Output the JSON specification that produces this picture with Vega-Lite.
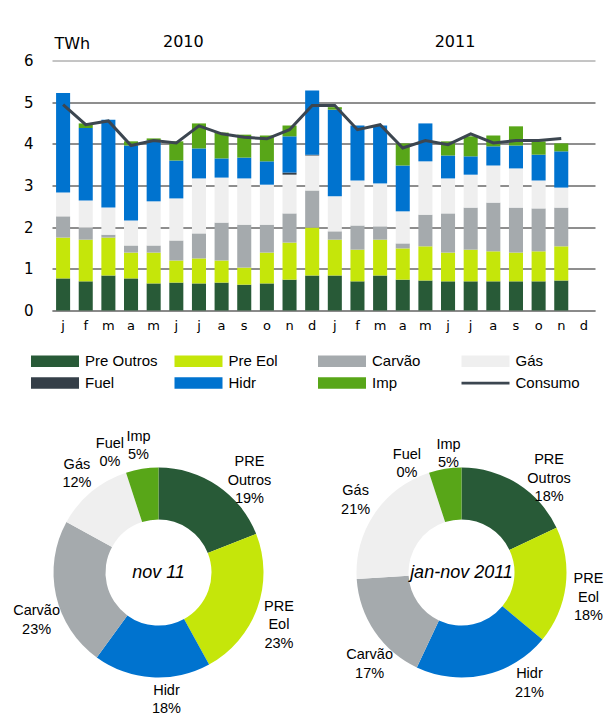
{
  "$schema": "https://vega.github.io/schema/vega-lite/v6.json",
  "padding": {"left": 13, "top": 33.5, "right": 5, "bottom": 2},
  "background": "white",
  "bounds": "flush",
  "spacing": 147,
  "config": {"view": {"stroke": null}},
  "resolve": {"scale": {"color": "independent"}, "legend": {"color": "independent"}},
  "vconcat": [
    {
      "width": 543,
      "height": 250,
      "data": {"values": [
        {"m": "2010-01", "Pre Outros": 0.77, "Pre Eol": 0.98, "Carvão": 0.51, "Gás": 0.57, "Fuel": 0, "Hidr": 2.39, "Imp": 0, "Consumo": 4.94},
        {"m": "2010-02", "Pre Outros": 0.70, "Pre Eol": 1.00, "Carvão": 0.29, "Gás": 0.65, "Fuel": 0, "Hidr": 1.74, "Imp": 0.11, "Consumo": 4.46},
        {"m": "2010-03", "Pre Outros": 0.84, "Pre Eol": 0.91, "Carvão": 0.07, "Gás": 0.65, "Fuel": 0, "Hidr": 2.11, "Imp": 0, "Consumo": 4.55},
        {"m": "2010-04", "Pre Outros": 0.77, "Pre Eol": 0.62, "Carvão": 0.17, "Gás": 0.60, "Fuel": 0, "Hidr": 1.80, "Imp": 0.10, "Consumo": 3.96},
        {"m": "2010-05", "Pre Outros": 0.65, "Pre Eol": 0.74, "Carvão": 0.17, "Gás": 1.06, "Fuel": 0, "Hidr": 1.46, "Imp": 0.05, "Consumo": 4.08},
        {"m": "2010-06", "Pre Outros": 0.67, "Pre Eol": 0.53, "Carvão": 0.48, "Gás": 1.01, "Fuel": 0, "Hidr": 0.91, "Imp": 0.46, "Consumo": 4.02},
        {"m": "2010-07", "Pre Outros": 0.65, "Pre Eol": 0.60, "Carvão": 0.60, "Gás": 1.32, "Fuel": 0, "Hidr": 0.72, "Imp": 0.60, "Consumo": 4.43},
        {"m": "2010-08", "Pre Outros": 0.67, "Pre Eol": 0.53, "Carvão": 0.91, "Gás": 1.08, "Fuel": 0, "Hidr": 0.46, "Imp": 0.62, "Consumo": 4.24},
        {"m": "2010-09", "Pre Outros": 0.62, "Pre Eol": 0.41, "Carvão": 1.03, "Gás": 1.11, "Fuel": 0, "Hidr": 0.50, "Imp": 0.55, "Consumo": 4.16},
        {"m": "2010-10", "Pre Outros": 0.65, "Pre Eol": 0.74, "Carvão": 0.67, "Gás": 0.96, "Fuel": 0, "Hidr": 0.56, "Imp": 0.62, "Consumo": 4.12},
        {"m": "2010-11", "Pre Outros": 0.74, "Pre Eol": 0.89, "Carvão": 0.70, "Gás": 0.93, "Fuel": 0.05, "Hidr": 0.87, "Imp": 0.26, "Consumo": 4.34},
        {"m": "2010-12", "Pre Outros": 0.84, "Pre Eol": 1.15, "Carvão": 0.89, "Gás": 0.84, "Fuel": 0.02, "Hidr": 1.54, "Imp": 0, "Consumo": 4.92},
        {"m": "2011-01", "Pre Outros": 0.84, "Pre Eol": 0.86, "Carvão": 0.20, "Gás": 0.84, "Fuel": 0, "Hidr": 2.08, "Imp": 0.06, "Consumo": 4.92},
        {"m": "2011-02", "Pre Outros": 0.70, "Pre Eol": 0.76, "Carvão": 0.58, "Gás": 1.08, "Fuel": 0, "Hidr": 1.32, "Imp": 0, "Consumo": 4.34},
        {"m": "2011-03", "Pre Outros": 0.84, "Pre Eol": 0.86, "Carvão": 0.32, "Gás": 1.03, "Fuel": 0, "Hidr": 1.39, "Imp": 0, "Consumo": 4.46},
        {"m": "2011-04", "Pre Outros": 0.74, "Pre Eol": 0.75, "Carvão": 0.12, "Gás": 0.77, "Fuel": 0, "Hidr": 1.10, "Imp": 0.53, "Consumo": 3.90},
        {"m": "2011-05", "Pre Outros": 0.72, "Pre Eol": 0.82, "Carvão": 0.76, "Gás": 1.28, "Fuel": 0, "Hidr": 0.91, "Imp": 0, "Consumo": 4.08},
        {"m": "2011-06", "Pre Outros": 0.70, "Pre Eol": 0.69, "Carvão": 0.94, "Gás": 0.84, "Fuel": 0, "Hidr": 0.55, "Imp": 0.34, "Consumo": 3.98},
        {"m": "2011-07", "Pre Outros": 0.70, "Pre Eol": 0.76, "Carvão": 1.01, "Gás": 0.79, "Fuel": 0, "Hidr": 0.44, "Imp": 0.48, "Consumo": 4.24},
        {"m": "2011-08", "Pre Outros": 0.70, "Pre Eol": 0.72, "Carvão": 1.17, "Gás": 0.89, "Fuel": 0, "Hidr": 0.46, "Imp": 0.26, "Consumo": 4.02},
        {"m": "2011-09", "Pre Outros": 0.70, "Pre Eol": 0.69, "Carvão": 1.08, "Gás": 0.94, "Fuel": 0, "Hidr": 0.55, "Imp": 0.46, "Consumo": 4.08},
        {"m": "2011-10", "Pre Outros": 0.70, "Pre Eol": 0.72, "Carvão": 1.03, "Gás": 0.67, "Fuel": 0, "Hidr": 0.62, "Imp": 0.32, "Consumo": 4.08},
        {"m": "2011-11", "Pre Outros": 0.72, "Pre Eol": 0.82, "Carvão": 0.93, "Gás": 0.48, "Fuel": 0, "Hidr": 0.87, "Imp": 0.19, "Consumo": 4.13}
      ]},
      "encoding": {
        "x": {
          "field": "m", "type": "ordinal",
          "scale": {
            "domain": ["2010-01","2010-02","2010-03","2010-04","2010-05","2010-06","2010-07","2010-08","2010-09","2010-10","2010-11","2010-12","2011-01","2011-02","2011-03","2011-04","2011-05","2011-06","2011-07","2011-08","2011-09","2011-10","2011-11","2011-12"],
            "paddingInner": 0.38, "paddingOuter": 0.18
          },
          "axis": {
            "title": null, "labelAngle": 0, "ticks": false, "grid": false,
            "domain": true, "domainColor": "#8a8a8a", "domainWidth": 2,
            "labelExpr": "['j','f','m','a','m','j','j','a','s','o','n','d'][toNumber(slice(datum.value,5))-1]",
            "labelFont": "DejaVu Sans", "labelFontSize": 13, "labelColor": "#000", "labelPadding": 9
          }
        }
      },
      "layer": [
        {
          "transform": [
            {"fold": ["Pre Outros", "Pre Eol", "Carvão", "Gás", "Fuel", "Hidr", "Imp"], "as": ["src", "v"]},
            {"calculate": "indexof(['Pre Outros','Pre Eol','Carvão','Gás','Fuel','Hidr','Imp'], datum.src)", "as": "k"}
          ],
          "mark": {"type": "bar"},
          "encoding": {
            "y": {
              "field": "v", "type": "quantitative", "stack": "zero",
              "scale": {"domain": [0, 6], "nice": false},
              "axis": {
                "title": "TWh", "titleAngle": 0, "titleAlign": "left", "titleBaseline": "middle",
                "titleX": 2, "titleY": -17, "titleFont": "DejaVu Sans", "titleFontSize": 16,
                "titleFontWeight": "normal", "titleColor": "#000",
                "values": [0, 1, 2, 3, 4, 5, 6],
                "labelFont": "DejaVu Sans", "labelFontSize": 15, "labelColor": "#000", "labelPadding": 19,
                "ticks": false, "domain": false, "grid": true,
                "gridColor": {"condition": {"test": "datum.value === 6 || datum.value === 0", "value": "#8a8a8a"}, "value": "#1e1e1e"},
                "gridWidth": 1
              }
            },
            "color": {
              "field": "src", "type": "nominal",
              "scale": {
                "domain": ["Pre Outros", "Pre Eol", "Carvão", "Gás", "Fuel", "Hidr", "Imp", "Consumo"],
                "range": ["#285a37", "#c5e60a", "#a5aaad", "#efefef", "#353f48", "#0073cf", "#58a618", "#3c4650"]
              },
              "legend": {
                "orient": "none", "legendX": -23, "legendY": 293, "columns": 4, "title": null,
                "direction": "horizontal", "gridAlign": "all",
                "symbolType": "M-4.3636,-1.045H4.3636V1.045H-4.3636Z", "symbolSize": 121, "symbolStrokeWidth": 0,
                "symbolOffset": 18.5,
                "labelFont": "Liberation Sans", "labelFontSize": 15, "labelColor": "#000",
                "labelOffset": 22.5, "labelLimit": 200, "columnPadding": 14.5, "rowPadding": 6,
                "encode": {"symbols": {"update": {"shape": {"signal": "datum.value === 'Consumo' ? 'M-4.3636,-0.25H4.3636V0.25H-4.3636Z' : 'M-4.3636,-1.045H4.3636V1.045H-4.3636Z'"}}}}
              }
            },
            "order": {"field": "k", "type": "quantitative"}
          }
        },
        {
          "mark": {"type": "line", "strokeWidth": 3},
          "encoding": {
            "y": {"field": "Consumo", "type": "quantitative", "title": "TWh"},
            "color": {"datum": "Consumo"}
          }
        },
        {
          "data": {"values": [{"yr": "2010", "m": "2010-06"}, {"yr": "2011", "m": "2011-06"}]},
          "mark": {"type": "text", "dx": 7, "dy": -19, "font": "DejaVu Sans", "fontSize": 16, "color": "#000"},
          "encoding": {
            "y": {"datum": 6, "type": "quantitative"},
            "text": {"field": "yr"}
          }
        }
      ]
    },
    {
      "bounds": "flush",
      "spacing": 90,
      "hconcat": [
        {
          "width": 213,
          "height": 230,
          "layer": [
            {
              "data": {"values": [
                {"cat": "PRE Outros", "p": 19}, {"cat": "PRE Eol", "p": 23}, {"cat": "Hidr", "p": 18},
                {"cat": "Carvão", "p": 23}, {"cat": "Gás", "p": 12}, {"cat": "Fuel", "p": 0}, {"cat": "Imp", "p": 5}
              ]},
              "transform": [
                {"calculate": "indexof(['PRE Outros','PRE Eol','Hidr','Carvão','Gás','Fuel','Imp'], datum.cat)", "as": "k"},
                {"calculate": "datum.cat + ' ' + datum.p + '%'", "as": "lbl"}
              ],
              "encoding": {
                "theta": {"field": "p", "type": "quantitative", "stack": true},
                "order": {"field": "k", "type": "quantitative"},
                "detail": {"field": "cat"}
              },
              "layer": [
                {
                  "mark": {"type": "arc", "outerRadius": 105, "innerRadius": 53},
                  "encoding": {
                    "color": {
                      "field": "cat", "type": "nominal", "legend": null,
                      "scale": {
                        "domain": ["PRE Outros", "PRE Eol", "Hidr", "Carvão", "Gás", "Fuel", "Imp"],
                        "range": ["#285a37", "#c5e60a", "#0073cf", "#a5aaad", "#efefef", "#353f48", "#58a618"]
                      }
                    }
                  }
                },
                {
                  "mark": {"type": "text", "radius": 128, "dy": -9.25, "lineBreak": " ", "font": "Liberation Sans", "fontSize": 14.5, "lineHeight": 18.5, "color": "#000"},
                  "encoding": {"text": {"condition": {"test": "indexof(['PRE Outros','Hidr','Carvão','Fuel'], datum.cat) < 0", "field": "lbl"}, "value": ""}}
                },
                {
                  "mark": {"type": "text", "radius": 128, "dx": 19, "dy": -4.25, "lineBreak": " ", "font": "Liberation Sans", "fontSize": 14.5, "lineHeight": 18.5, "color": "#000"},
                  "encoding": {"text": {"condition": {"test": "datum.cat === 'PRE Outros'", "field": "lbl"}, "value": ""}}
                },
                {
                  "mark": {"type": "text", "radius": 128, "dx": 16, "dy": -9.25, "lineBreak": " ", "font": "Liberation Sans", "fontSize": 14.5, "lineHeight": 18.5, "color": "#000"},
                  "encoding": {"text": {"condition": {"test": "datum.cat === 'Hidr'", "field": "lbl"}, "value": ""}}
                },
                {
                  "mark": {"type": "text", "radius": 128, "dx": 3, "dy": 10.75, "lineBreak": " ", "font": "Liberation Sans", "fontSize": 14.5, "lineHeight": 18.5, "color": "#000"},
                  "encoding": {"text": {"condition": {"test": "datum.cat === 'Carvão'", "field": "lbl"}, "value": ""}}
                },
                {
                  "mark": {"type": "text", "radius": 128, "dx": -9, "dy": -7.25, "lineBreak": " ", "font": "Liberation Sans", "fontSize": 14.5, "lineHeight": 18.5, "color": "#000"},
                  "encoding": {"text": {"condition": {"test": "datum.cat === 'Fuel'", "field": "lbl"}, "value": ""}}
                }
              ]
            },
            {
              "data": {"values": [{"t": "nov 11"}]},
              "mark": {"type": "text", "font": "Liberation Sans", "fontSize": 18, "fontStyle": "italic", "color": "#000"},
              "encoding": {"text": {"field": "t"}}
            }
          ]
        },
        {
          "width": 213,
          "height": 230,
          "layer": [
            {
              "data": {"values": [
                {"cat": "PRE Outros", "p": 18}, {"cat": "PRE Eol", "p": 18}, {"cat": "Hidr", "p": 21},
                {"cat": "Carvão", "p": 17}, {"cat": "Gás", "p": 21}, {"cat": "Fuel", "p": 0}, {"cat": "Imp", "p": 5}
              ]},
              "transform": [
                {"calculate": "indexof(['PRE Outros','PRE Eol','Hidr','Carvão','Gás','Fuel','Imp'], datum.cat)", "as": "k"},
                {"calculate": "datum.cat + ' ' + datum.p + '%'", "as": "lbl"}
              ],
              "encoding": {
                "theta": {"field": "p", "type": "quantitative", "stack": true},
                "order": {"field": "k", "type": "quantitative"},
                "detail": {"field": "cat"}
              },
              "layer": [
                {
                  "mark": {"type": "arc", "outerRadius": 105, "innerRadius": 53},
                  "encoding": {
                    "color": {
                      "field": "cat", "type": "nominal", "legend": null,
                      "scale": {
                        "domain": ["PRE Outros", "PRE Eol", "Hidr", "Carvão", "Gás", "Fuel", "Imp"],
                        "range": ["#285a37", "#c5e60a", "#0073cf", "#a5aaad", "#efefef", "#353f48", "#58a618"]
                      }
                    }
                  }
                },
                {
                  "mark": {"type": "text", "radius": 128, "dy": -9.25, "lineBreak": " ", "font": "Liberation Sans", "fontSize": 14.5, "lineHeight": 18.5, "color": "#000"},
                  "encoding": {"text": {"condition": {"test": "indexof(['PRE Outros','Hidr','Carvão','Fuel','Imp'], datum.cat) < 0", "field": "lbl"}, "value": ""}}
                },
                {
                  "mark": {"type": "text", "radius": 128, "dx": 19, "dy": -4.25, "lineBreak": " ", "font": "Liberation Sans", "fontSize": 14.5, "lineHeight": 18.5, "color": "#000"},
                  "encoding": {"text": {"condition": {"test": "datum.cat === 'PRE Outros'", "field": "lbl"}, "value": ""}}
                },
                {
                  "mark": {"type": "text", "radius": 128, "dx": 40, "dy": -23.25, "lineBreak": " ", "font": "Liberation Sans", "fontSize": 14.5, "lineHeight": 18.5, "color": "#000"},
                  "encoding": {"text": {"condition": {"test": "datum.cat === 'Hidr'", "field": "lbl"}, "value": ""}}
                },
                {
                  "mark": {"type": "text", "radius": 128, "dx": 14, "dy": 10.75, "lineBreak": " ", "font": "Liberation Sans", "fontSize": 14.5, "lineHeight": 18.5, "color": "#000"},
                  "encoding": {"text": {"condition": {"test": "datum.cat === 'Carvão'", "field": "lbl"}, "value": ""}}
                },
                {
                  "mark": {"type": "text", "radius": 128, "dx": -15, "dy": 3.75, "lineBreak": " ", "font": "Liberation Sans", "fontSize": 14.5, "lineHeight": 18.5, "color": "#000"},
                  "encoding": {"text": {"condition": {"test": "datum.cat === 'Fuel'", "field": "lbl"}, "value": ""}}
                },
                {
                  "mark": {"type": "text", "radius": 128, "dx": 7, "dy": -1.25, "lineBreak": " ", "font": "Liberation Sans", "fontSize": 14.5, "lineHeight": 18.5, "color": "#000"},
                  "encoding": {"text": {"condition": {"test": "datum.cat === 'Imp'", "field": "lbl"}, "value": ""}}
                }
              ]
            },
            {
              "data": {"values": [{"t": "jan-nov 2011"}]},
              "mark": {"type": "text", "font": "Liberation Sans", "fontSize": 18, "fontStyle": "italic", "color": "#000"},
              "encoding": {"text": {"field": "t"}}
            }
          ]
        }
      ]
    }
  ]
}
